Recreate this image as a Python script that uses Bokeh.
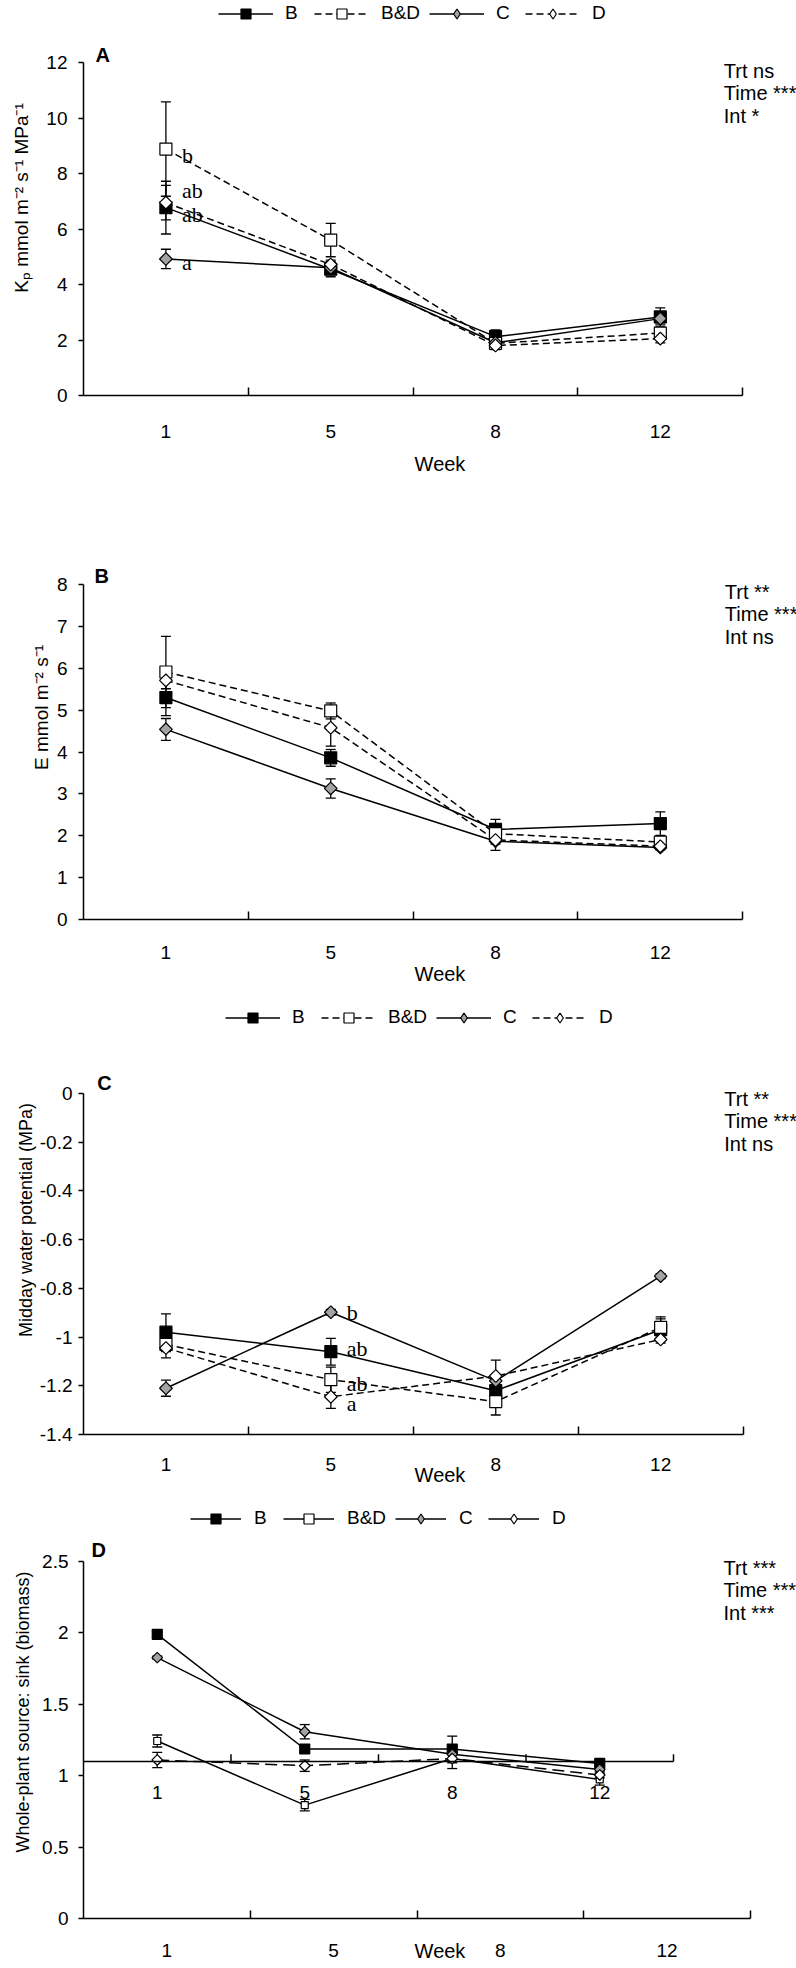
import math
from bokeh.plotting import figure
from bokeh.layouts import column
from bokeh.models import (ColumnDataSource, Whisker, TeeHead, Legend, LegendItem,
                          FixedTicker, CustomJSTickFormatter, Label, Range1d)
from bokeh.core.properties import value
from bokeh.embed import file_html
from bokeh.resources import INLINE

# ---------------- data ----------------
weeks = ["1", "5", "8", "12"]
treatments = ["B", "B&D", "C", "D"]

# Panel A: Kp
kp_B = [6.77, 4.55, 2.12, 2.83]
kp_B_err = [0.95, 0.27, 0.24, 0.33]
kp_BD = [8.88, 5.60, 1.88, 2.25]
kp_BD_err = [1.70, 0.60, 0.15, 0.20]
kp_C = [4.92, 4.60, 1.90, 2.77]
kp_C_err = [0.35, 0.20, 0.15, 0.20]
kp_D = [6.95, 4.72, 1.80, 2.05]
kp_D_err = [0.62, 0.16, 0.15, 0.15]
kp_ticks = [0, 2, 4, 6, 8, 10, 12]
kp_letters = ["b", "ab", "ab", "a"]
kp_letters_week = ["1", "1", "1", "1"]
kp_letters_y = [8.65, 7.37, 6.53, 4.79]
kp_stats = ["Trt ns", "Time ***", "Int *"]

# Panel B: E
e_B = [5.30, 3.86, 2.15, 2.29]
e_B_err = [0.43, 0.20, 0.24, 0.28]
e_BD = [5.91, 4.98, 2.05, 1.85]
e_BD_err = [0.85, 0.19, 0.10, 0.10]
e_C = [4.54, 3.13, 1.87, 1.72]
e_C_err = [0.26, 0.23, 0.22, 0.05]
e_D = [5.71, 4.58, 1.90, 1.75]
e_D_err = [0.20, 0.44, 0.10, 0.08]
e_ticks = [0, 1, 2, 3, 4, 5, 6, 7, 8]
e_stats = ["Trt **", "Time ***", "Int ns"]

# Panel C: midday water potential
wp_B = [-0.98, -1.06, -1.22, -0.97]
wp_B_err = [0.075, 0.055, 0.04, 0.045]
wp_BD = [-1.03, -1.175, -1.265, -0.96]
wp_BD_err = [0.03, 0.052, 0.055, 0.043]
wp_C = [-1.21, -0.898, -1.18, -0.75]
wp_C_err = [0.033, 0.012, 0.02, 0.01]
wp_D = [-1.045, -1.245, -1.16, -1.01]
wp_D_err = [0.04, 0.048, 0.065, 0.015]
wp_ticks = [0, -0.2, -0.4, -0.6, -0.8, -1.0, -1.2, -1.4]
wp_letters = ["b", "ab", "ab", "a"]
wp_letters_week = ["5", "5", "5", "5"]
wp_letters_y = [-0.90, -1.047, -1.189, -1.271]
wp_stats = ["Trt **", "Time ***", "Int ns"]

# Panel D: source:sink
ss_B = [1.99, 1.187, 1.187, 1.086]
ss_B_err = [0.01, 0.02, 0.09, 0.01]
ss_BD = [1.243, 0.794, 1.12, 0.974]
ss_BD_err = [0.042, 0.04, 0.03, 0.04]
ss_C = [1.827, 1.308, 1.15, 1.044]
ss_C_err = [0.01, 0.05, 0.03, 0.01]
ss_D = [1.11, 1.07, 1.12, 1.005]
ss_D_err = [0.054, 0.04, 0.07, 0.02]
ss_ticks = [0, 0.5, 1, 1.5, 2, 2.5]
ss_stats = ["Trt ***", "Time ***", "Int ***"]
ss_inner_axis_y = 1.1
ss_inner_label_y = 0.884

# ---------------- styles ----------------
GRAY = "#a3a3a3"
FONT = "Liberation Sans"
SERIF = "Liberation Serif"
DIAM = math.pi / 4
NAN = float("nan")
W = 796

style_main = {
    "B":   dict(marker="square", fill="black", dash="solid", size=12, angle=0, lmarker="square"),
    "B&D": dict(marker="square", fill="white", dash="7 4", size=12, angle=0, lmarker="square"),
    "C":   dict(marker="square", fill=GRAY, dash="solid", size=9, angle=DIAM, lmarker="diamond"),
    "D":   dict(marker="square", fill="white", dash="7 4", size=9, angle=DIAM, lmarker="diamond"),
}
style_d = {
    "B":   dict(marker="square", fill="black", dash="solid", size=10, angle=0, lmarker="square", ldash="solid"),
    "B&D": dict(marker="square", fill="white", dash="solid", size=7, angle=0, lmarker="square", ldash="solid"),
    "C":   dict(marker="square", fill=GRAY, dash="solid", size=7.5, angle=DIAM, lmarker="diamond", ldash="solid"),
    "D":   dict(marker="square", fill="white", dash="12 6", size=7.5, angle=DIAM, lmarker="diamond", ldash="solid"),
}


def build_panel(spec):
    # fl/fr: page x of the x-axis ends, ft/fb: page y of the y-axis ends
    fl, fr, ft, fb = spec["frame"]
    top, h = spec["fig_top"], spec["fig_h"]
    n = len(weeks)
    y0, y1 = spec["y_range"]
    x_end = n + (W - fr) * n / (fr - fl)
    y_end = y1 + (ft - top) * (y1 - y0) / (fb - ft)
    p = figure(width=W, height=h, x_range=Range1d(0, x_end), y_range=Range1d(y0, y_end),
               output_backend="svg", toolbar_location=None,
               min_border_left=fl, min_border_right=0,
               min_border_top=0, min_border_bottom=top + h - fb)
    p.xgrid.visible = False
    p.ygrid.visible = False
    p.outline_line_color = None
    p.background_fill_color = "white"
    p.border_fill_color = "white"

    def dx(px):
        return (px - fl) / (fr - fl) * n

    def dy(py):
        return y0 + (fb - py) / (fb - ft) * (y1 - y0)

    xa = p.xaxis[0]
    xa.bounds = (0, n)
    xa.ticker = FixedTicker(ticks=[i + 0.5 for i in range(n)],
                            minor_ticks=list(range(1, n + 1)))
    xa.formatter = CustomJSTickFormatter(args=dict(labels=weeks),
                                         code="return labels[Math.floor(tick)];")
    xa.major_tick_in = 0
    xa.major_tick_out = 0
    xa.minor_tick_in = 8
    xa.minor_tick_out = 0
    xa.minor_tick_line_width = 1.5
    xa.minor_tick_line_color = "black"
    xa.axis_line_width = 1.5
    xa.axis_line_color = "black"
    xa.major_label_standoff = spec["xlab_standoff"]
    xa.major_label_text_font = FONT
    xa.major_label_text_font_size = "19px"
    xa.major_label_text_color = "black"
    xa.axis_label = "Week"
    xa.axis_label_standoff = spec["week_standoff"]
    xa.axis_label_text_font = FONT
    xa.axis_label_text_font_size = "20px"
    xa.axis_label_text_font_style = "normal"
    xa.axis_label_text_color = "black"

    ya = p.yaxis[0]
    ya.bounds = (y0, y1)
    ya.ticker = FixedTicker(ticks=spec["y_ticks"], minor_ticks=[])
    ya.formatter = CustomJSTickFormatter(code="return String(Math.round(tick*10)/10);")
    ya.major_tick_out = 5
    ya.major_tick_in = 0
    ya.minor_tick_in = 0
    ya.minor_tick_out = 0
    ya.major_tick_line_width = 1.5
    ya.axis_line_width = 1.5
    ya.axis_line_color = "black"
    ya.major_label_standoff = spec["ylab_standoff"]
    ya.major_label_text_font = FONT
    ya.major_label_text_font_size = "19px"
    ya.major_label_text_color = "black"
    ya.axis_label = spec["ylabel"]
    ya.axis_label_standoff = spec["yaxis_label_standoff"]
    ya.axis_label_text_font = FONT
    ya.axis_label_text_font_size = spec["ylabel_size"]
    ya.axis_label_text_font_style = "normal"
    ya.axis_label_text_color = "black"

    styles = spec["styles"]
    rname = "default"
    if spec.get("inner_ratio"):
        rname = "inner"
        p.extra_x_ranges = {"inner": Range1d(0, x_end * spec["inner_ratio"])}

    xs = [i + 0.5 for i in range(n)]
    srcs = {}
    for t in treatments:
        m, e = spec["series"][t]
        srcs[t] = ColumnDataSource(dict(x=xs, y=m,
                                        lo=[a - b for a, b in zip(m, e)],
                                        hi=[a + b for a, b in zip(m, e)]))
        p.add_layout(Whisker(source=srcs[t], base="x", lower="lo", upper="hi",
                             line_width=1.3, line_color="black", x_range_name=rname,
                             upper_head=TeeHead(size=10, line_width=1.3, line_color="black"),
                             lower_head=TeeHead(size=10, line_width=1.3, line_color="black")))
    for t in treatments:
        st = styles[t]
        p.line("x", "y", source=srcs[t], line_color="black", line_width=1.5,
               line_dash=st["dash"], x_range_name=rname)
    for t in treatments:
        st = styles[t]
        p.scatter("x", "y", source=srcs[t], marker=st["marker"], size=st["size"],
                  angle=st["angle"], fill_color=st["fill"], line_color="black",
                  line_width=1.2, x_range_name=rname)

    # crossing axis of the overlaid chart (panel D)
    if spec.get("inner_ratio"):
        my = spec["inner_axis_y"]
        p.line(x=[0, n], y=[my, my], line_color="black", line_width=1.5, x_range_name="inner")
        p.segment(x0=list(range(1, n + 1)), y0=[my] * n, x1=list(range(1, n + 1)),
                  y1=[my + 0.05] * n, line_color="black", line_width=1.5, x_range_name="inner")
        p.text(x=xs, y=[spec["inner_label_y"]] * n, text=weeks, x_range_name="inner",
               text_font=value(FONT), text_font_size="19px", text_align="center",
               text_baseline="middle", text_color="black")

    # significance letters
    if spec.get("letters"):
        txt, wk, yy = spec["letters"]
        p.text(x=[weeks.index(w) + 0.5 for w in wk], y=yy, text=txt, x_offset=16,
               text_font=value(SERIF), text_font_size="22px", text_align="left",
               text_baseline="alphabetic", text_color="black")

    # legend (own renderers, holding no visible data)
    if spec.get("legend"):
        lx, lcy, gw, stdoff, spc = spec["legend"]
        items = []
        for t in treatments:
            st = styles[t]
            lr = p.line(x=[NAN], y=[NAN], line_color="black", line_width=1.5,
                        line_dash=st.get("ldash", st["dash"]))
            sr = p.scatter(x=[NAN], y=[NAN], marker=st["lmarker"], size=10,
                           fill_color=st["fill"], line_color="black", line_width=1.2)
            items.append(LegendItem(label=t, renderers=[lr, sr]))
        lg = Legend(items=items, orientation="horizontal",
                    location=(lx - fl, fb - (lcy + 12.5)),
                    glyph_width=gw, glyph_height=25, label_height=25, label_standoff=stdoff,
                    spacing=spc, padding=0, margin=0, border_line_alpha=0,
                    background_fill_alpha=0, label_text_font=FONT,
                    label_text_font_size="19px", label_text_color="black")
        p.add_layout(lg)

    lx_, ly_ = spec["panel_pos"]
    p.add_layout(Label(x=dx(lx_), y=dy(ly_), text=spec["panel"], text_font=FONT,
                       text_font_style="bold", text_font_size="20px", text_align="left",
                       text_baseline="middle", text_color="black"))
    sx_, sy_ = spec["stats_pos"]
    for i, s in enumerate(spec["stats"]):
        p.add_layout(Label(x=dx(sx_), y=dy(sy_ + 22.5 * i), text=s, text_font=FONT,
                           text_font_size="20px", text_align="left",
                           text_baseline="middle", text_color="black"))
    return p


pA = build_panel(dict(
    fig_top=0, fig_h=495, frame=(80, 742, 62, 395), y_range=(0, 12), y_ticks=kp_ticks,
    ylabel="K\u209a mmol m\u207b\u00b2 s\u207b\u00b9 MPa\u207b\u00b9", ylabel_size="19px",
    ylab_standoff=11, yaxis_label_standoff=11, xlab_standoff=29, week_standoff=12,
    styles=style_main,
    series={"B": (kp_B, kp_B_err), "B&D": (kp_BD, kp_BD_err),
            "C": (kp_C, kp_C_err), "D": (kp_D, kp_D_err)},
    letters=(kp_letters, kp_letters_week, kp_letters_y),
    legend=(215, 13, 55, 12, 9),
    panel="A", panel_pos=(92, 54), stats=kp_stats, stats_pos=(723, 70)))

pB = build_panel(dict(
    fig_top=495, fig_h=510, frame=(80, 742, 584, 919), y_range=(0, 8), y_ticks=e_ticks,
    ylabel="E mmol m\u207b\u00b2 s\u207b\u00b9", ylabel_size="19px",
    ylab_standoff=11, yaxis_label_standoff=2, xlab_standoff=26, week_standoff=1,
    styles=style_main,
    series={"B": (e_B, e_B_err), "B&D": (e_BD, e_BD_err),
            "C": (e_C, e_C_err), "D": (e_D, e_D_err)},
    panel="B", panel_pos=(91, 575), stats=e_stats, stats_pos=(724, 591)))

pC = build_panel(dict(
    fig_top=1005, fig_h=500, frame=(75, 742, 1093, 1434), y_range=(-1.4, 0), y_ticks=wp_ticks,
    ylabel="Midday water potential (MPa)", ylabel_size="18px",
    ylab_standoff=6, yaxis_label_standoff=1, xlab_standoff=23, week_standoff=-10,
    styles=style_main,
    series={"B": (wp_B, wp_B_err), "B&D": (wp_BD, wp_BD_err),
            "C": (wp_C, wp_C_err), "D": (wp_D, wp_D_err)},
    letters=(wp_letters, wp_letters_week, wp_letters_y),
    legend=(217, 1017, 55, 12, 9),
    panel="C", panel_pos=(89, 1082), stats=wp_stats, stats_pos=(723, 1098)))

pD = build_panel(dict(
    fig_top=1505, fig_h=463, frame=(83, 750, 1561, 1918), y_range=(0, 2.5), y_ticks=ss_ticks,
    ylabel="Whole-plant source: sink (biomass)", ylabel_size="18px",
    ylab_standoff=10, yaxis_label_standoff=6, xlab_standoff=25, week_standoff=-20,
    styles=style_d,
    series={"B": (ss_B, ss_B_err), "B&D": (ss_BD, ss_BD_err),
            "C": (ss_C, ss_C_err), "D": (ss_D, ss_D_err)},
    inner_ratio=(750 - 83) / (673 - 83), inner_axis_y=ss_inner_axis_y,
    inner_label_y=ss_inner_label_y,
    legend=(190, 1518, 51, 13, 9),
    panel="D", panel_pos=(91, 1549), stats=ss_stats, stats_pos=(723, 1567)))

layout = column(pA, pB, pC, pD, spacing=0)
open("out.html", "w").write(file_html(layout, INLINE))
